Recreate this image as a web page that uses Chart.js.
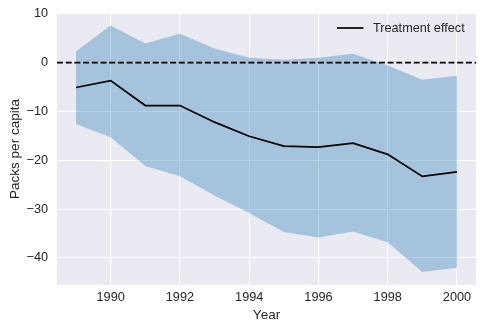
<!DOCTYPE html>
<html>
<head>
<meta charset="utf-8">
<script src="https://cdn.jsdelivr.net/npm/chart.js@4.4.1/dist/chart.umd.min.js"></script>
<style>
  html, body { margin: 0; padding: 0; background: #fff; }
  #wrap { width: 485px; height: 332px; }
</style>
</head>
<body>
<div id="wrap"><canvas id="chart" width="485" height="332"></canvas></div>
<script>
// data
const years = [1989, 1990, 1991, 1992, 1993, 1994, 1995, 1996, 1997, 1998, 1999, 2000];
const effect = [-5.1, -3.7, -8.8, -8.8, -12.2, -15.1, -17.1, -17.3, -16.5, -18.8, -23.3, -22.4];
const upper = [2.3, 7.6, 3.9, 5.9, 2.9, 1.0, 0.6, 1.0, 1.8, -0.6, -3.5, -2.7];
const lower = [-12.6, -15.3, -21.2, -23.3, -27.2, -30.8, -34.7, -35.8, -34.6, -36.8, -42.9, -42.0];
const xTicks = [1990, 1992, 1994, 1996, 1998, 2000];
const yTicks = [-40, -30, -20, -10, 0, 10];

const X_MIN = 1988.45, X_MAX = 2000.55;
const Y_MIN = -45.55, Y_MAX = 10.15;

const FONT = '"Liberation Sans", Arial, sans-serif';
const TEXT = '#262626';

const toPoints = (vals) => years.map((y, i) => ({ x: y, y: vals[i] }));

// seaborn-like grey panel
const panelBg = {
    id: 'panelBg',
    beforeDraw(chart) {
        const { ctx, chartArea: a } = chart;
        ctx.save();
        ctx.fillStyle = '#eaeaf2';
        ctx.fillRect(a.left, a.top, a.right - a.left, a.bottom - a.top);
        ctx.restore();
    }
};

// legend inside the axes, top right, no frame
const innerLegend = {
    id: 'innerLegend',
    afterDraw(chart) {
        const { ctx } = chart;
        ctx.save();
        ctx.strokeStyle = '#000';
        ctx.lineWidth = 1.7;
        ctx.beginPath();
        ctx.moveTo(337, 28);
        ctx.lineTo(363.5, 28);
        ctx.stroke();
        ctx.fillStyle = TEXT;
        ctx.font = '12.7px ' + FONT;
        ctx.textBaseline = 'middle';
        ctx.fillText('Treatment effect', 373, 28.5);
        ctx.restore();
    }
};

// keep chart area where the layout padding puts it
const noScalePad = (scale) => {
    scale.paddingTop = 0;
    scale.paddingBottom = 0;
    scale.paddingLeft = 0;
    scale.paddingRight = 0;
};

new Chart(document.getElementById('chart'), {
    type: 'line',
    data: {
        datasets: [
            {
                label: 'Treatment effect',
                data: toPoints(effect),
                borderColor: '#000',
                borderWidth: 1.7,
                pointRadius: 0,
                fill: false,
                tension: 0
            },
            {
                label: 'zero',
                data: [{ x: X_MIN, y: 0 }, { x: X_MAX, y: 0 }],
                borderColor: '#000',
                borderWidth: 1.7,
                borderDash: [6, 2.7],
                pointRadius: 0,
                fill: false
            },
            {
                label: 'upper',
                data: toPoints(upper),
                borderWidth: 0,
                borderColor: 'rgba(31,119,180,0)',
                backgroundColor: 'rgba(31,119,180,0.34)',
                pointRadius: 0,
                fill: '+1',
                tension: 0
            },
            {
                label: 'lower',
                data: toPoints(lower),
                borderWidth: 0,
                borderColor: 'rgba(31,119,180,0)',
                pointRadius: 0,
                fill: false,
                tension: 0
            }
        ]
    },
    options: {
        responsive: false,
        animation: false,
        events: [],
        layout: { padding: { top: 13, right: 9, left: 0, bottom: 0 } },
        plugins: {
            legend: { display: false },
            tooltip: { enabled: false }
        },
        scales: {
            x: {
                type: 'linear',
                min: X_MIN,
                max: X_MAX,
                afterBuildTicks: (scale) => { scale.ticks = xTicks.map(v => ({ value: v })); },
                afterFit: (scale) => { scale.height = 47; noScalePad(scale); },
                grid: { color: '#fff', lineWidth: 1.1, drawTicks: false },
                border: { display: false },
                ticks: {
                    padding: 5,
                    color: TEXT,
                    font: { family: FONT, size: 12.7 },
                    maxRotation: 0,
                    callback: (v) => String(v)
                },
                title: {
                    display: true,
                    text: 'Year',
                    color: TEXT,
                    font: { family: FONT, size: 13.5 },
                    padding: { top: 0, bottom: 9 }
                }
            },
            y: {
                type: 'linear',
                min: Y_MIN,
                max: Y_MAX,
                afterBuildTicks: (scale) => { scale.ticks = yTicks.map(v => ({ value: v })); },
                afterFit: (scale) => { scale.width = 57; noScalePad(scale); },
                grid: { color: '#fff', lineWidth: 1.1, drawTicks: false },
                border: { display: false },
                ticks: {
                    padding: 9,
                    color: TEXT,
                    font: { family: FONT, size: 12.7 },
                    callback: (v) => String(v).replace('-', '\u2212')
                },
                title: {
                    display: true,
                    text: 'Packs per capita',
                    color: TEXT,
                    font: { family: FONT, size: 13.5 },
                    padding: { top: 7, bottom: 0 }
                }
            }
        }
    },
    plugins: [panelBg, innerLegend]
});
</script>
</body>
</html>
